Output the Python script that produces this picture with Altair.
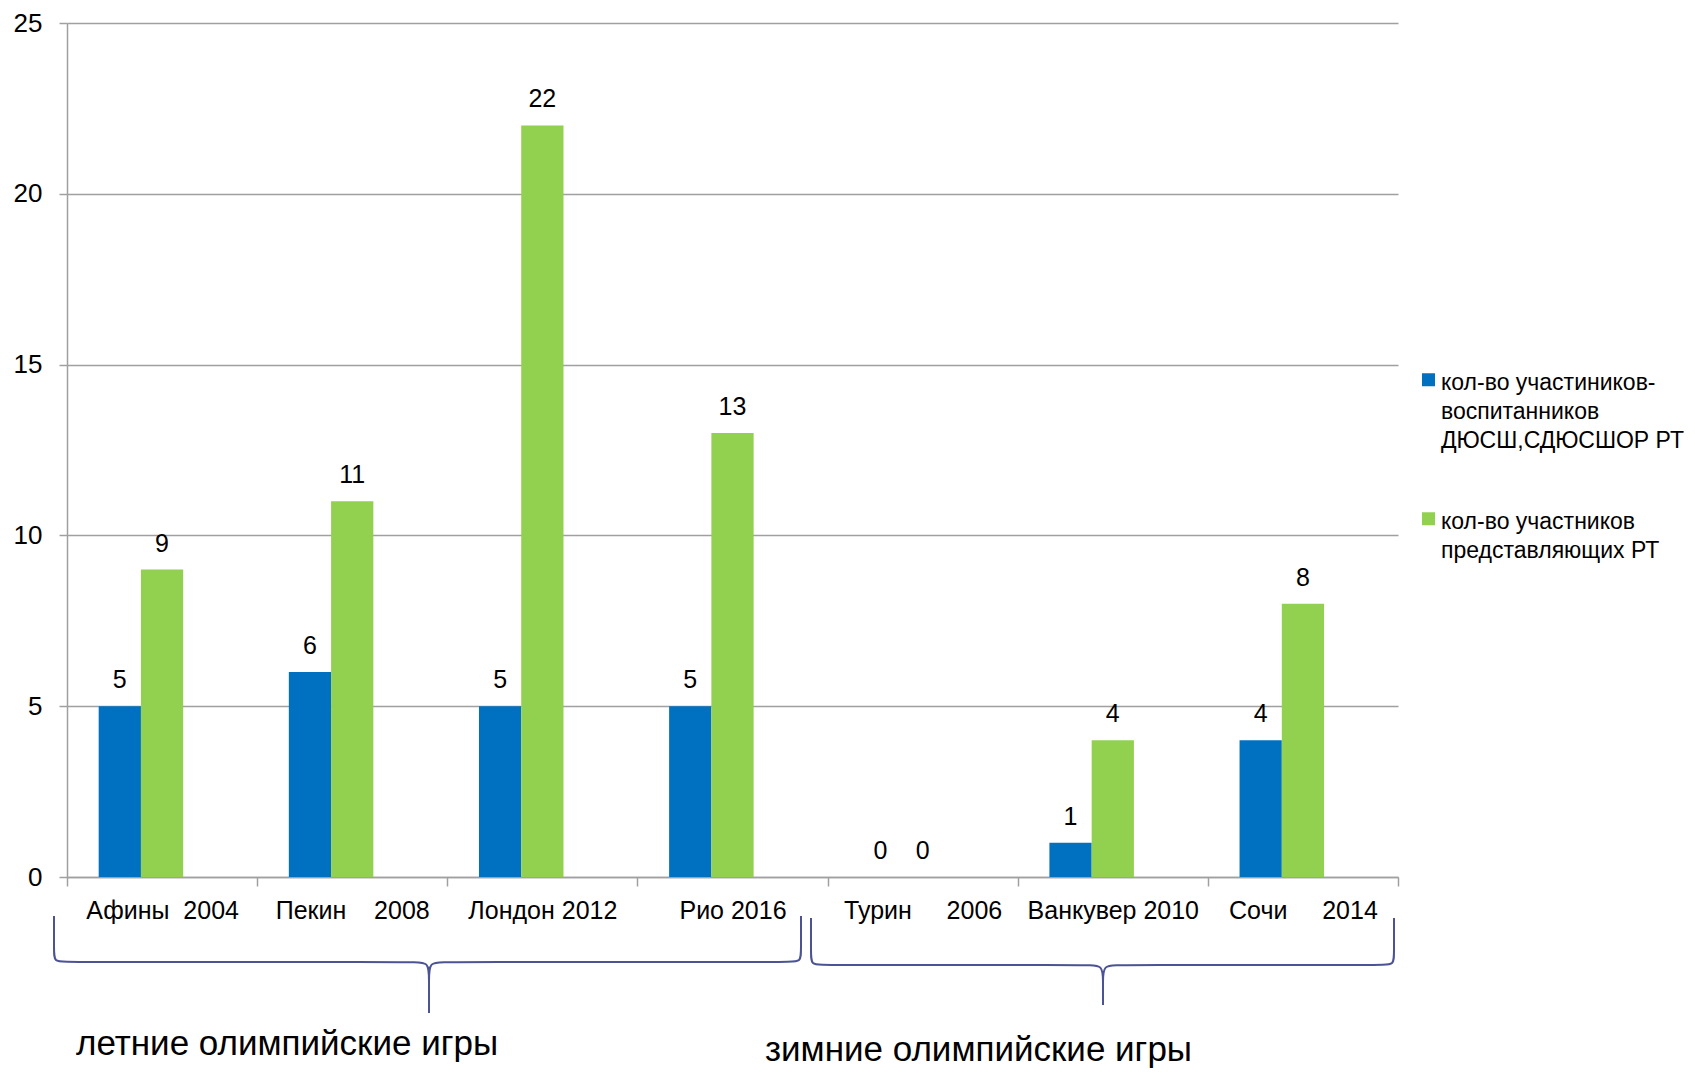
import altair as alt
import pandas as pd

NB = "\u00a0"
categories = [
    "Афины" + NB * 2 + "2004",
    "Пекин" + NB * 4 + "2008",
    "Лондон 2012",
    "Рио 2016",
    "Турин" + NB * 5 + "2006",
    "Ванкувер 2010",
    "Сочи" + NB * 5 + "2014",
]
series_names = [
    "кол-во участиников-\nвоспитанников\nДЮСШ,СДЮСШОР РТ",
    "кол-во участников\nпредставляющих РТ",
]
pupils = [5, 6, 5, 5, 0, 1, 4]
participants = [9, 11, 22, 13, 0, 4, 8]
y_ticks = [0, 5, 10, 15, 20, 25]
group_labels = ["летние олимпийские игры", "зимние олимпийские игры"]
series_colors = ["#0070C0", "#92D050"]

GRID = "#A0A0A0"
BRACE = "#4B5394"
FONT = "Liberation Sans"

rows = []
for c, a, b in zip(categories, pupils, participants):
    rows.append({"cat": c, "series": series_names[0], "value": a})
    rows.append({"cat": c, "series": series_names[1], "value": b})
df = pd.DataFrame(rows)

x_enc = alt.X(
    "cat:N", sort=categories,
    scale=alt.Scale(paddingInner=0, paddingOuter=0),
    axis=alt.Axis(title=None, labelAngle=0, tickBand="extent", tickSize=9,
                  tickColor=GRID, domainColor=GRID, tickWidth=1.5, domainWidth=1.5,
                  labelFontSize=25, labelPadding=12, labelColor="black",
                  labelLimit=400, grid=False),
)
xo_enc = alt.XOffset(
    "series:N",
    scale=alt.Scale(domain=series_names + ["_"], paddingInner=0, paddingOuter=0.75),
)
y_enc = alt.Y(
    "value:Q", scale=alt.Scale(domain=[0, 25]),
    axis=alt.Axis(title=None, values=y_ticks, grid=True, gridColor=GRID, gridWidth=1.5,
                  tickColor=GRID, tickSize=8, tickWidth=1.5, domainColor=GRID,
                  domainWidth=1.5, labelFontSize=26, labelPadding=17, labelColor="black"),
)
color_enc = alt.Color(
    "series:N",
    scale=alt.Scale(domain=series_names, range=series_colors),
    legend=alt.Legend(title=None, orient="none", legendX=1350, legendY=355, padding=0,
                      labelExpr="split(datum.label, '\\n')", labelFontSize=23,
                      labelBaseline="alphabetic", labelColor="black", labelLimit=400,
                      labelOffset=1, symbolType="M-1,-2.5H1V-0.5H-1Z", symbolSize=169,
                      symbolStrokeWidth=0, rowPadding=57),
)

base = alt.Chart(df)
bars = base.mark_bar().encode(x=x_enc, xOffset=xo_enc, y=y_enc, color=color_enc)
labels = base.mark_text(baseline="alphabetic", dy=-18, fontSize=25, color="black").encode(
    x=x_enc, xOffset=xo_enc, y=y_enc, text="value:Q"
)
main = alt.layer(bars, labels)


def brace(name, lx, rx, cx, ty, hy, tip, r=12, rc=16):
    pts = [(lx, ty), (lx, hy - r), (lx, hy), (lx + r, hy), (cx - rc, hy), (cx, hy),
           (cx, hy + rc), (cx, tip), (cx, tip), (cx, tip), (cx, hy + rc), (cx, hy),
           (cx + rc, hy), (rx - r, hy), (rx, hy), (rx, hy - r), (rx, ty)]
    return [{"brace": name, "i": i, "px": p[0], "py": p[1]} for i, p in enumerate(pts)]


brace_df = pd.DataFrame(
    brace("summer", -13, 734, 362, 893, 939, 990) + brace("winter", 744, 1327, 1036, 895, 942, 982)
)
braces = alt.Chart(brace_df).mark_line(interpolate="basis", color=BRACE, strokeWidth=2).encode(
    x=alt.X("px:Q", scale=None, axis=None),
    y=alt.Y("py:Q", scale=None, axis=None),
    detail="brace:N",
    order="i:Q",
)

one = pd.DataFrame({"k": [0]})
t1 = alt.Chart(one).mark_text(align="left", baseline="alphabetic", fontSize=35, color="black").encode(
    x=alt.value(9), y=alt.value(1032), text=alt.value(group_labels[0])
)
t2 = alt.Chart(one).mark_text(align="left", baseline="alphabetic", fontSize=35, color="black").encode(
    x=alt.value(698), y=alt.value(1038), text=alt.value(group_labels[1])
)

chart = alt.layer(main, braces, t1, t2).resolve_scale(x="independent", y="independent").properties(
    width=1331, height=854,
    autosize=alt.AutoSizeParams(type="none"),
    padding={"left": 59, "top": 15, "right": 289, "bottom": 192},
).configure(font=FONT, style={"guide-label": {"lineHeight": 29}}).configure_view(strokeWidth=0)

chart.save("out.html", embed_options={"renderer": "svg", "actions": False})
